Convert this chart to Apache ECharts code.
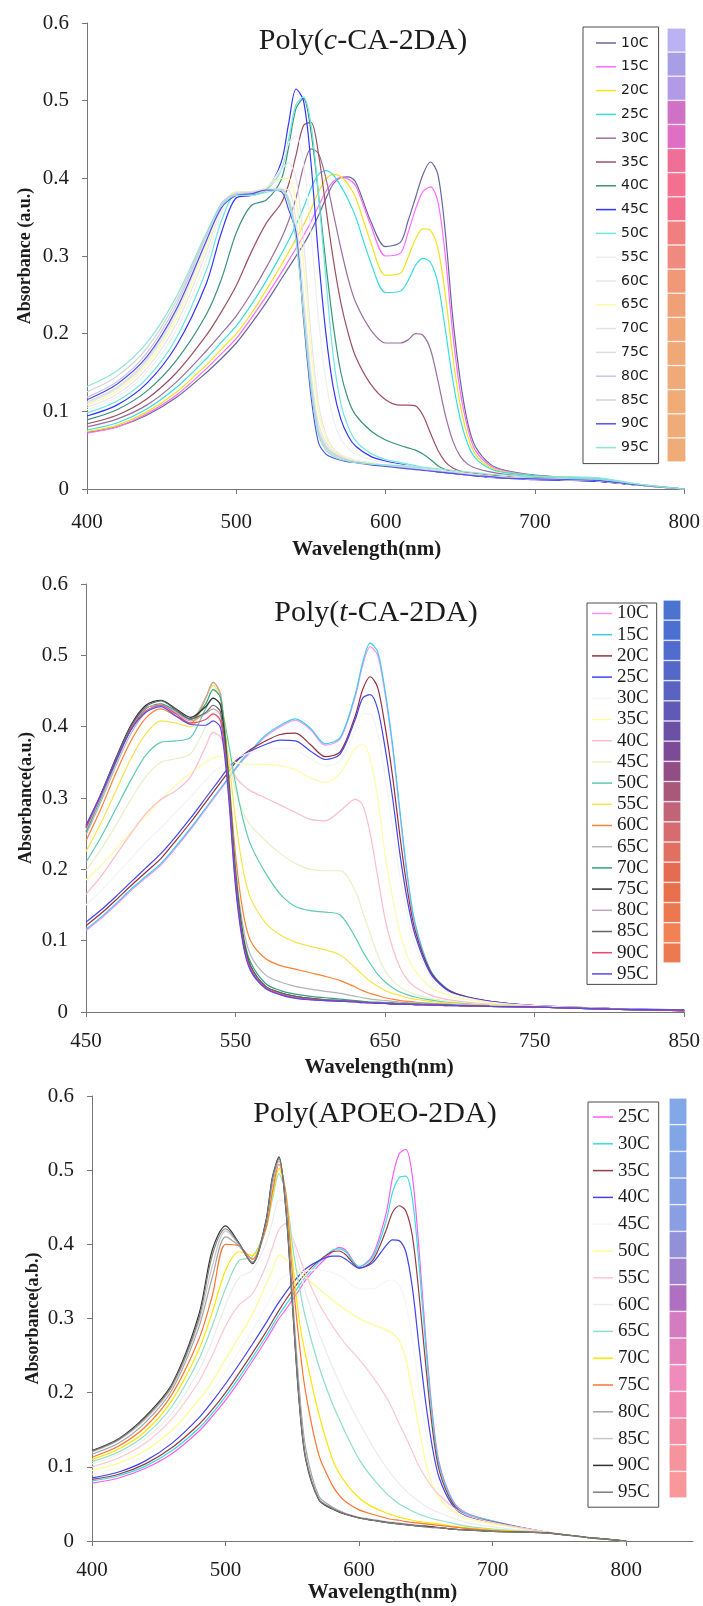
<!DOCTYPE html>
<html>
<head>
<meta charset="utf-8">
<script src="https://cdn.jsdelivr.net/npm/echarts/dist/echarts.min.js"></script>
<style>
  html, body { margin: 0; padding: 0; background: #fff; }
  #chart { width: 703px; height: 1606px; }
</style>
</head>
<body>
<div id="chart"></div>
<script>
// ---------- Poly(c-CA-2DA) ----------
const wlC = [400,420,440,460,480,490,500,510,520,530,535,540,545,550,555,560,565,570,575,580,590,600,610,615,620,625,630,635,640,645,650,655,660,670,680,700,740,770,800];
const tempsC = ['10C','15C','20C','25C','30C','35C','40C','45C','50C','55C','60C','65C','70C','75C','80C','85C','90C','95C'];
const colorsC = ['#66669e','#ff6cff','#f2e21c','#38dede','#9a6e9e','#9c5060','#3c927c','#3434ff','#6ee6e0','#efefef','#e6e6ea','#fbfba6','#e4e4e4','#dcdcdc','#c8c8ee','#d2d2d2','#5252ee','#8ee6d4'];
const c10 = [.073,.080,.095,.118,.150,.168,.188,.213,.240,.270,.285,.300,.315,.332,.352,.374,.393,.401,.402,.395,.345,.312,.318,.345,.375,.405,.421,.405,.330,.220,.140,.085,.055,.032,.024,.018,.012,.005,0];
const c15 = [.072,.080,.097,.121,.155,.174,.194,.220,.248,.278,.294,.310,.326,.344,.364,.383,.396,.401,.399,.390,.340,.300,.304,.330,.360,.383,.389,.370,.300,.200,.125,.078,.050,.030,.023,.017,.012,.005,0];
const c20 = [.074,.082,.099,.125,.160,.180,.200,.226,.256,.288,.305,.322,.340,.360,.382,.399,.405,.402,.392,.375,.318,.275,.278,.298,.322,.335,.333,.310,.250,.170,.108,.068,.045,.028,.022,.017,.012,.005,0];
const c25 = [.076,.085,.103,.131,.168,.189,.210,.237,.268,.302,.320,.340,.362,.387,.405,.410,.404,.390,.372,.350,.292,.253,.255,.268,.288,.297,.292,.265,.205,.140,.090,.058,.040,.026,.021,.017,.014,.006,0];
const c30 = [.080,.090,.108,.138,.178,.200,.223,.252,.285,.322,.345,.375,.415,.438,.432,.400,.355,.310,.270,.240,.205,.188,.188,.192,.200,.198,.180,.140,.095,.062,.042,.032,.027,.022,.019,.015,.011,.005,0];
const c35 = [.084,.095,.116,.150,.198,.228,.262,.305,.342,.368,.392,.430,.468,.472,.432,.362,.295,.240,.200,.170,.135,.115,.108,.108,.107,.095,.072,.050,.035,.027,.023,.021,.020,.018,.016,.013,.010,.005,0];
const c40 = [.089,.102,.126,.166,.225,.270,.330,.365,.372,.398,.440,.490,.503,.460,.380,.290,.210,.150,.115,.095,.075,.063,.056,.053,.050,.045,.038,.030,.025,.022,.020,.019,.018,.016,.015,.013,.010,.005,0];
const c45 = [.094,.108,.136,.185,.265,.330,.375,.378,.385,.420,.470,.515,.500,.420,.300,.200,.130,.090,.068,.055,.042,.036,.032,.030,.028,.026,.024,.022,.021,.020,.019,.018,.017,.015,.014,.012,.010,.005,0];
const c50 = [.098,.113,.142,.195,.282,.345,.380,.380,.385,.410,.450,.495,.505,.470,.380,.270,.170,.110,.080,.062,.046,.038,.034,.032,.030,.028,.026,.024,.022,.021,.020,.019,.018,.016,.015,.014,.013,.006,0];
const c55 = [.102,.118,.150,.205,.295,.355,.382,.382,.388,.415,.445,.455,.420,.330,.220,.140,.090,.065,.052,.045,.038,.034,.031,.030,.028,.026,.024,.023,.022,.021,.020,.019,.018,.016,.015,.013,.011,.005,0];
const c60 = [.105,.122,.155,.213,.305,.360,.383,.382,.388,.410,.420,.400,.320,.200,.110,.070,.052,.044,.040,.037,.034,.031,.029,.028,.027,.026,.025,.024,.023,.022,.021,.020,.019,.017,.015,.013,.011,.005,0];
const c65 = [.108,.126,.160,.220,.312,.364,.383,.383,.388,.400,.400,.370,.290,.180,.100,.066,.050,.043,.039,.036,.033,.030,.028,.027,.026,.025,.024,.023,.022,.021,.020,.019,.018,.016,.015,.013,.011,.005,0];
const c70 = [.110,.129,.164,.226,.318,.366,.382,.383,.386,.386,.385,.345,.250,.150,.085,.060,.048,.042,.038,.035,.032,.030,.028,.027,.026,.025,.024,.023,.022,.021,.020,.019,.018,.016,.015,.013,.011,.005,0];
const c75 = [.112,.131,.167,.230,.320,.367,.381,.382,.385,.385,.375,.330,.235,.140,.078,.056,.046,.041,.037,.035,.032,.030,.028,.027,.026,.025,.024,.023,.022,.021,.020,.019,.018,.016,.015,.013,.011,.005,0];
const c80 = [.118,.138,.175,.238,.326,.368,.380,.381,.385,.386,.372,.325,.228,.135,.074,.054,.045,.040,.037,.035,.032,.030,.028,.027,.026,.025,.024,.023,.022,.021,.020,.019,.018,.016,.015,.013,.011,.005,0];
const c85 = [.125,.145,.181,.243,.328,.366,.379,.380,.384,.385,.368,.322,.226,.132,.072,.053,.044,.040,.037,.035,.032,.030,.028,.027,.026,.025,.024,.023,.022,.021,.020,.019,.018,.016,.015,.013,.011,.005,0];
const c90 = [.115,.135,.170,.232,.320,.362,.378,.380,.385,.383,.360,.330,.220,.120,.060,.045,.040,.037,.035,.034,.031,.029,.027,.026,.025,.024,.023,.022,.021,.020,.019,.018,.017,.016,.014,.013,.011,.005,0];
const c95 = [.132,.152,.188,.248,.330,.365,.378,.378,.382,.385,.370,.320,.225,.130,.070,.050,.042,.038,.036,.034,.032,.031,.030,.029,.028,.028,.027,.026,.025,.024,.023,.022,.021,.019,.018,.016,.015,.006,0];
const valuesC = [c10,c15,c20,c25,c30,c35,c40,c45,c50,c55,c60,c65,c70,c75,c80,c85,c90,c95];
const swatchC = ['#bab2f2','#a89ee6','#b29ae6','#cf72c6','#df6fc4','#f06f98','#f37090','#f2708e','#f08080','#f08a80','#f09878','#f0a077','#f0a677','#f0a877','#f0aa77','#f0ab77','#f0ac78','#f0ac78'];

// ---------- Poly(t-CA-2DA) ----------
const wlT = [450,460,470,480,490,500,510,520,530,535,540,545,550,555,560,570,580,590,600,610,620,630,635,640,645,650,655,660,665,670,680,690,700,720,750,800,850];
const tempsT = ['10C','15C','20C','25C','30C','35C','40C','45C','50C','55C','60C','65C','70C','75C','80C','85C','90C','95C'];
const colorsT = ['#ff90f4','#3ccdee','#94303e','#4444ee','#f4f4f4','#fdfda8','#ffbccc','#e8f0c8','#5ccdac','#f8e44a','#ff8232','#b4b4b4','#34a080','#303030','#c8a2b6','#646464','#f24470','#5648f2'];
const t10 = [.114,.131,.150,.170,.188,.206,.230,.256,.284,.298,.312,.326,.340,.353,.364,.386,.400,.409,.396,.374,.383,.442,.486,.512,.500,.445,.370,.276,.187,.123,.059,.034,.024,.015,.009,.005,.002];
const t15 = [.116,.133,.152,.172,.190,.208,.232,.258,.286,.300,.314,.328,.342,.355,.366,.388,.402,.411,.398,.376,.385,.445,.490,.517,.505,.450,.375,.280,.190,.125,.060,.035,.024,.015,.009,.005,.002];
const t20 = [.121,.138,.157,.177,.196,.215,.240,.266,.294,.308,.322,.336,.350,.360,.368,.380,.389,.391,.375,.358,.365,.415,.452,.470,.455,.400,.330,.245,.170,.115,.058,.034,.024,.015,.009,.005,.002];
const t25 = [.126,.143,.162,.182,.202,.222,.246,.272,.300,.314,.328,.342,.352,.360,.366,.375,.381,.380,.366,.354,.362,.410,.440,.445,.425,.370,.300,.220,.155,.108,.055,.033,.023,.015,.009,.005,.003];
const t30 = [.150,.170,.192,.215,.238,.258,.280,.302,.325,.336,.344,.350,.356,.360,.364,.368,.370,.368,.355,.345,.352,.395,.418,.418,.390,.330,.260,.190,.135,.095,.050,.030,.022,.014,.009,.005,.002];
const t35 = [.185,.205,.228,.252,.275,.297,.318,.335,.350,.356,.358,.355,.350,.348,.347,.347,.345,.340,.328,.322,.335,.370,.375,.355,.300,.220,.160,.110,.078,.058,.035,.025,.019,.013,.008,.004,.002];
const t40 = [.165,.190,.220,.250,.278,.298,.310,.330,.372,.392,.385,.355,.330,.318,.310,.300,.290,.280,.270,.268,.282,.298,.290,.250,.190,.130,.090,.062,.045,.035,.024,.018,.015,.011,.008,.004,.002];
const t45 = [.198,.228,.262,.298,.330,.350,.355,.362,.400,.420,.405,.360,.310,.280,.262,.240,.222,.208,.200,.198,.198,.170,.140,.110,.080,.058,.044,.035,.029,.025,.019,.016,.013,.010,.007,.004,.002];
const t50 = [.210,.245,.285,.325,.360,.378,.380,.385,.425,.440,.430,.380,.320,.270,.235,.195,.165,.148,.142,.140,.136,.105,.085,.068,.053,.042,.034,.028,.024,.021,.017,.014,.012,.009,.007,.004,.002];
const t55 = [.225,.265,.310,.355,.390,.408,.405,.400,.440,.458,.440,.360,.270,.200,.160,.125,.108,.098,.092,.087,.080,.062,.052,.043,.036,.030,.026,.023,.020,.018,.015,.013,.011,.009,.007,.004,.002];
const t60 = [.240,.285,.335,.380,.412,.425,.415,.405,.440,.462,.445,.340,.220,.140,.100,.075,.065,.060,.055,.050,.044,.035,.030,.026,.023,.020,.018,.016,.015,.014,.012,.011,.010,.008,.007,.004,.002];
const t65 = [.248,.295,.345,.390,.420,.430,.420,.410,.440,.462,.445,.330,.200,.120,.080,.052,.042,.036,.032,.029,.026,.022,.020,.018,.017,.016,.015,.014,.013,.013,.012,.011,.010,.008,.007,.004,.002];
const t70 = [.252,.300,.350,.396,.425,.432,.422,.410,.432,.452,.440,.340,.200,.110,.070,.040,.030,.025,.022,.020,.018,.016,.015,.014,.014,.013,.013,.012,.012,.011,.011,.010,.009,.008,.007,.004,.002];
const t75 = [.258,.305,.356,.402,.430,.437,.425,.413,.428,.440,.430,.330,.190,.105,.065,.036,.027,.022,.019,.017,.016,.015,.014,.013,.013,.012,.012,.011,.011,.011,.010,.010,.009,.008,.007,.004,.002];
const t80 = [.255,.302,.352,.398,.426,.430,.420,.408,.418,.425,.415,.320,.185,.100,.062,.035,.026,.021,.018,.017,.016,.015,.014,.013,.013,.012,.012,.011,.011,.011,.010,.010,.009,.008,.007,.004,.002];
const t85 = [.260,.306,.355,.400,.428,.436,.424,.411,.420,.430,.420,.325,.188,.102,.064,.036,.027,.022,.019,.017,.016,.015,.014,.013,.013,.012,.012,.011,.011,.011,.010,.010,.009,.008,.007,.004,.002];
const t90 = [.260,.304,.352,.396,.422,.430,.418,.405,.410,.418,.408,.318,.180,.098,.060,.034,.025,.020,.018,.016,.015,.014,.013,.013,.012,.012,.011,.011,.011,.010,.010,.009,.009,.008,.007,.004,.002];
const t95 = [.262,.305,.352,.395,.420,.428,.415,.403,.402,.408,.398,.310,.175,.095,.058,.033,.024,.019,.017,.016,.015,.014,.013,.013,.012,.012,.011,.011,.011,.010,.010,.009,.009,.008,.007,.004,.003];
const valuesT = [t10,t15,t20,t25,t30,t35,t40,t45,t50,t55,t60,t65,t70,t75,t80,t85,t90,t95];
const swatchT = ['#4a74d0','#4c70cf','#506ccc','#5468c8','#5a62c2','#6258b6','#6c50a6','#7c4a96','#924c86','#a85878','#c26478','#d66c70','#e07060','#e46c50','#e8704c','#ec7850','#f08254','#ec7a50'];
const ticksT = [450,550,650,750,850];

// ---------- Poly(APOEO-2DA) ----------
const wlA = [400,420,440,460,480,490,500,510,520,530,535,540,545,550,555,560,570,580,585,590,600,610,620,625,630,635,640,645,650,655,660,670,680,700,740,770,800];
const tempsA = ['25C','30C','35C','40C','45C','50C','55C','60C','65C','70C','75C','80C','85C','90C','95C'];
const colorsA = ['#ff5cf6','#34dede','#963c44','#4242ee','#f6f6f6','#fdfd92','#ffc6d0','#ececec','#8edec8','#fce600','#ff7432','#a4a4a4','#c8c8c8','#323232','#7e7e7e'];
const a25 = [.078,.085,.098,.118,.148,.168,.190,.215,.242,.270,.285,.300,.312,.325,.338,.352,.372,.390,.396,.392,.370,.385,.440,.490,.522,.528,.490,.390,.270,.170,.105,.055,.038,.027,.012,.005,0];
const a30 = [.081,.088,.101,.122,.152,.172,.195,.220,.247,.275,.290,.305,.318,.331,.344,.356,.376,.392,.394,.390,.370,.382,.430,.470,.490,.492,.460,.370,.260,.165,.102,.054,.037,.027,.012,.005,0];
const a35 = [.083,.090,.104,.126,.157,.177,.200,.226,.253,.281,.296,.311,.325,.338,.350,.361,.378,.390,.391,.386,.368,.378,.418,.443,.452,.445,.410,.330,.235,.150,.095,.051,.035,.026,.012,.005,0];
const a40 = [.085,.093,.108,.132,.166,.188,.212,.238,.265,.293,.308,.322,.335,.347,.358,.367,.378,.384,.384,.380,.368,.375,.398,.406,.405,.390,.340,.260,.185,.125,.085,.048,.034,.025,.012,.005,0];
const a45 = [.090,.099,.115,.140,.178,.202,.228,.256,.284,.315,.332,.350,.358,.360,.362,.364,.366,.362,.358,.352,.340,.340,.350,.352,.345,.320,.270,.205,.145,.100,.070,.042,.031,.024,.012,.005,0];
const a50 = [.095,.105,.122,.150,.190,.215,.245,.275,.305,.345,.365,.385,.380,.370,.362,.355,.340,.325,.318,.312,.300,.292,.285,.280,.270,.245,.200,.150,.105,.075,.058,.040,.031,.023,.012,.005,0];
const a55 = [.100,.112,.132,.165,.215,.250,.290,.318,.333,.370,.395,.420,.428,.410,.385,.360,.320,.290,.277,.265,.245,.222,.195,.178,.158,.140,.120,.100,.085,.072,.062,.046,.035,.025,.012,.005,0];
const a60 = [.104,.117,.138,.173,.230,.270,.318,.355,.365,.400,.430,.460,.455,.410,.370,.335,.280,.235,.215,.195,.160,.128,.100,.088,.077,.068,.060,.053,.047,.042,.038,.031,.025,.019,.011,.005,0];
const a65 = [.107,.120,.143,.182,.245,.290,.340,.378,.383,.420,.460,.495,.470,.400,.345,.300,.235,.185,.165,.145,.110,.085,.065,.057,.050,.045,.040,.036,.033,.030,.028,.024,.020,.016,.011,.005,0];
const a70 = [.110,.124,.148,.190,.258,.308,.365,.390,.385,.420,.465,.502,.470,.380,.300,.250,.170,.110,.092,.078,.058,.046,.038,.035,.032,.030,.028,.026,.025,.024,.023,.020,.018,.015,.011,.005,0];
const a75 = [.113,.128,.154,.198,.272,.330,.400,.398,.380,.420,.470,.508,.470,.360,.270,.200,.115,.075,.062,.053,.042,.036,.031,.029,.028,.026,.025,.024,.023,.022,.021,.019,.017,.014,.011,.005,0];
const a80 = [.117,.132,.160,.204,.288,.355,.410,.398,.376,.425,.480,.512,.460,.335,.210,.125,.060,.046,.041,.037,.032,.029,.026,.025,.024,.023,.022,.021,.020,.019,.018,.016,.015,.013,.011,.005,0];
const a85 = [.120,.136,.164,.208,.295,.370,.418,.400,.375,.428,.485,.515,.455,.325,.195,.115,.057,.044,.040,.036,.031,.028,.025,.024,.023,.022,.021,.020,.019,.018,.018,.016,.015,.013,.011,.005,0];
const a90 = [.122,.138,.168,.212,.305,.392,.425,.402,.374,.430,.490,.518,.450,.320,.190,.110,.055,.043,.039,.036,.031,.028,.025,.024,.023,.022,.021,.020,.020,.019,.018,.016,.015,.013,.011,.005,0];
const a95 = [.121,.137,.166,.210,.300,.385,.421,.401,.375,.428,.488,.516,.452,.322,.192,.112,.056,.044,.040,.036,.031,.028,.025,.024,.023,.022,.021,.020,.019,.018,.018,.016,.015,.013,.011,.005,0];
const valuesA = [a25,a30,a35,a40,a45,a50,a55,a60,a65,a70,a75,a80,a85,a90,a95];
const swatchA = ['#82a8e8','#80a6e6','#84a4e6','#86a2e4','#8a9ee2','#9290d8','#a080cc','#b070c2','#d47cc0','#e484bc','#f08cbc','#f08ab0','#f28ea6','#f6949e','#f8989a'];
const ticksA = [400,500,600,700,800];

// ---------- shared styling ----------
const SERIF = '"Liberation Serif", "Times New Roman", serif';
const INK = '#1c1c1c';
const AXIS_GREY = '#767676';

function lineSeries(prefix, wl, temps, values, colors, axisIndex) {
  return temps.map((t, i) => ({
    name: prefix + ':' + t,
    type: 'line',
    xAxisIndex: axisIndex,
    yAxisIndex: axisIndex,
    data: wl.map((w, j) => [w, values[i][j]]),
    symbol: 'none',
    smooth: 0.3,
    silent: true,
    lineStyle: { width: 1.2, color: colors[i] },
    itemStyle: { color: colors[i] }
  }));
}

function swatchSeries(colors, axisIndex) {
  return {
    type: 'bar',
    xAxisIndex: axisIndex,
    yAxisIndex: axisIndex,
    barCategoryGap: '0%',
    silent: true,
    data: colors.map(c => ({ value: 1, itemStyle: { color: c, borderColor: 'rgba(255,255,255,0.45)', borderWidth: 0.8 } }))
  };
}

function xAxis(gridIndex, min, max, nameGap, labelMargin, namePad, labels) {
  const ax = {
    gridIndex, type: 'value', min, max, interval: 100,
    axisLine: { show: true, lineStyle: { color: AXIS_GREY, width: 1 } },
    axisTick: { show: true, length: 5, inside: false, lineStyle: { color: AXIS_GREY } },
    splitLine: { show: false },
    axisLabel: { fontFamily: SERIF, fontSize: 21, color: INK, margin: labelMargin },
    name: 'Wavelength(nm)', nameLocation: 'middle', nameGap, nameMoveOverlap: false,
    nameTextStyle: { fontFamily: SERIF, fontWeight: 'bold', fontSize: 21, color: INK, padding: namePad }
  };
  if (labels) {
    ax.axisLabel.customValues = labels;
    ax.axisTick.customValues = labels;
  }
  return ax;
}

function yAxis(gridIndex, name, nameGap) {
  return {
    gridIndex, type: 'value', min: 0, max: 0.6, interval: 0.1,
    axisLine: { show: true, lineStyle: { color: AXIS_GREY, width: 1 } },
    axisTick: { show: true, length: 5, inside: false, lineStyle: { color: AXIS_GREY } },
    splitLine: { show: false },
    axisLabel: { fontFamily: SERIF, fontSize: 21, color: INK, margin: 18 },
    name, nameLocation: 'middle', nameGap, nameMoveOverlap: false,
    nameTextStyle: { fontFamily: SERIF, fontWeight: 'bold', fontSize: 18, color: INK }
  };
}

// Legend rows show a short coloured stroke before each temperature
function legend(prefix, temps, box) {
  return Object.assign({
    data: temps.map(t => prefix + ':' + t),
    formatter: n => n.split(':')[1],
    orient: 'vertical',
    selectedMode: false,
    backgroundColor: '#fff',
    borderColor: '#4a4a4a',
    borderWidth: 1,
    icon: 'rect',
    itemWidth: 20,
    itemHeight: 1.5
  }, box);
}

function title(text, x, y) {
  return {
    type: 'text', x, y, z: 100,
    style: {
      text, align: 'center', verticalAlign: 'middle', fill: INK,
      font: '30px ' + SERIF,
      rich: {
        n: { fontFamily: SERIF, fontSize: 30, fill: INK, fontStyle: 'normal' },
        i: { fontFamily: SERIF, fontSize: 30, fill: INK, fontStyle: 'italic' }
      }
    }
  };
}

const hiddenValueAxis = gi => ({ gridIndex: gi, type: 'value', min: 0, max: 1, show: false });
const hiddenCatAxis = (gi, temps) => ({ gridIndex: gi, type: 'category', data: temps, inverse: true, show: false });

const option = {
  animation: false,
  backgroundColor: '#ffffff',
  grid: [
    { left: 87, top: 23, width: 599, height: 466 },
    { left: 86, top: 584, width: 601, height: 428 },
    { left: 92, top: 1096, width: 601, height: 445 },
    { left: 667, top: 28, width: 19, height: 434, z: 5 },
    { left: 663, top: 600, width: 18, height: 363, z: 5 },
    { left: 669, top: 1098, width: 18, height: 400, z: 5 }
  ],
  xAxis: [
    xAxis(0, 400, 800, 50, 23, [0, 38, 0, 0]),
    xAxis(1, 450, 850, 45, 19, [0, 12, 0, 0], ticksT),
    xAxis(2, 400, 850, 41, 19, [0, 20, 0, 0], ticksA),
    hiddenValueAxis(3), hiddenValueAxis(4), hiddenValueAxis(5)
  ],
  yAxis: [
    yAxis(0, 'Absorbance (a.u.)', 53),
    yAxis(1, 'Absorbance(a.u.)', 51),
    yAxis(2, 'Absorbance(a.b.)', 50),
    hiddenCatAxis(3, tempsC), hiddenCatAxis(4, tempsT), hiddenCatAxis(5, tempsA)
  ],
  legend: [
    legend('c', tempsC, {
      left: 583, top: 27, padding: [8, 10, 8, 13], itemGap: 7.8,
      textStyle: { fontFamily: '"DejaVu Sans", Verdana, sans-serif', fontSize: 14, lineHeight: 16, color: INK }
    }),
    legend('t', tempsT, {
      left: 587, top: 603, padding: [1, 8, 1, 5], itemGap: 2.2,
      textStyle: { fontFamily: SERIF, fontSize: 19, lineHeight: 18, color: INK }
    }),
    legend('a', tempsA, {
      left: 588, top: 1102, padding: [5, 9, 5, 5], itemGap: 6.8,
      textStyle: { fontFamily: SERIF, fontSize: 19, lineHeight: 20, color: INK }
    })
  ],
  graphic: [
    title('{n|Poly(}{i|c}{n|-CA-2DA)}', 363, 41),
    title('{n|Poly(}{i|t}{n|-CA-2DA)}', 376, 613),
    title('{n|Poly(APOEO-2DA)}', 375, 1114)
  ],
  series: [
    ...lineSeries('c', wlC, tempsC, valuesC, colorsC, 0),
    ...lineSeries('t', wlT, tempsT, valuesT, colorsT, 1),
    ...lineSeries('a', wlA, tempsA, valuesA, colorsA, 2),
    swatchSeries(swatchC, 3),
    swatchSeries(swatchT, 4),
    swatchSeries(swatchA, 5)
  ]
};

const chart = echarts.init(document.getElementById('chart'), null, { renderer: 'canvas' });
chart.setOption(option);
</script>
</body>
</html>
